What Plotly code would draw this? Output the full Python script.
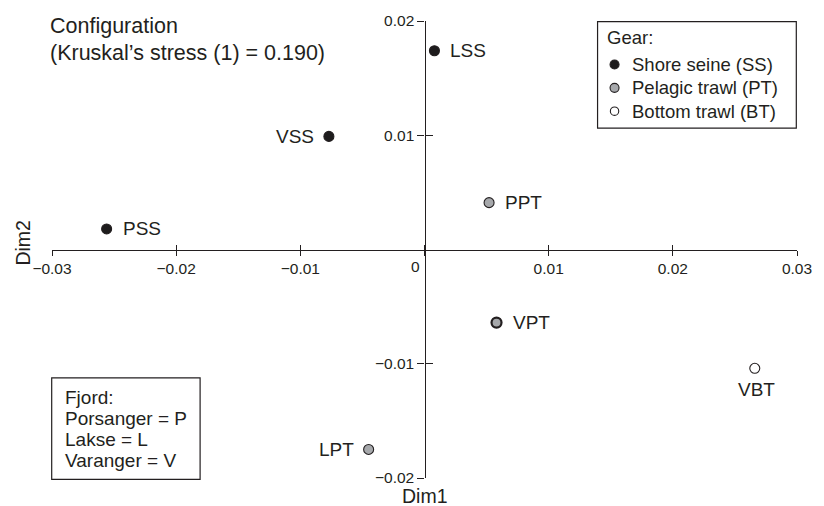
import plotly.graph_objects as go

# ---- data ----
labels = ["LSS", "VSS", "PSS", "PPT", "VPT", "LPT", "VBT"]
dim1 = [0.0008, -0.0077, -0.0256, 0.0052, 0.0058, -0.0045, 0.0266]
dim2 = [0.0174, 0.0099, 0.0018, 0.0041, -0.0064, -0.0175, -0.0104]
gear = ["SS", "SS", "SS", "PT", "PT", "PT", "BT"]
gear_order = ["SS", "PT", "BT"]
gear_names = ["Shore seine (SS)", "Pelagic trawl (PT)", "Bottom trawl (BT)"]
label_side = ["right", "left", "right", "right", "right", "left", "below"]
x_ticks = [-0.03, -0.02, -0.01, 0, 0.01, 0.02, 0.03]
y_ticks = [-0.02, -0.01, 0.01, 0.02]
fjord_lines = ["Fjord:", "Porsanger = P", "Lakse = L", "Varanger = V"]
title_lines = ["Configuration", "(Kruskal\u2019s stress (1) = 0.190)"]
legend_title = "Gear:"

# ---- styles ----
INK = "#231f20"
FONT = "Liberation Sans, Arial, sans-serif"
gear_fill = {"SS": "#1e1c1d", "PT": "#a6a8ab", "BT": "#ffffff"}
W, H = 824, 506
ML, MR, MT, MB = 52, 26, 16, 28
PW, PH = W - ML - MR, H - MT - MB


def pxx(p):
    return (p - ML) / PW


def pxy(p):
    return (H - MB - p) / PH


def fmt(v):
    if v == 0:
        return ""
    return ("\u2212" if v < 0 else "") + f"{abs(v):g}"


fig = go.Figure()

for g, name in zip(gear_order, gear_names):
    idx = [i for i, gg in enumerate(gear) if gg == g]
    lw = [2.2 if labels[i] == "VPT" else 1.1 for i in idx]
    fig.add_trace(go.Scatter(
        x=[dim1[i] for i in idx], y=[dim2[i] for i in idx],
        mode="markers", name=name, showlegend=False,
        marker=dict(size=10, color=gear_fill[g],
                    line=dict(color=INK, width=lw)),
        hoverinfo="text", text=[labels[i] for i in idx],
    ))

# overlay axes to draw the inner half of the crossing ticks
fig.add_trace(go.Scatter(x=[0], y=[0], xaxis="x2", yaxis="y2", mode="markers",
                         marker=dict(opacity=0), showlegend=False,
                         hoverinfo="skip"))

annotations = []
for lab, xv, yv, side in zip(labels, dim1, dim2, label_side):
    a = dict(x=xv, y=yv, xref="x", yref="y", text=lab, showarrow=False,
             font=dict(size=19, color=INK, family=FONT))
    if side == "right":
        a.update(xanchor="left", yanchor="middle", xshift=14)
    elif side == "left":
        a.update(xanchor="right", yanchor="middle", xshift=-13)
    else:
        a.update(xanchor="center", yanchor="middle", yshift=-21, xshift=2)
    annotations.append(a)

# x tick label "0" sits left of the vertical axis
annotations.append(dict(x=0, y=0.5, xref="x", yref="paper", text="0",
                        showarrow=False, xanchor="right", yanchor="top",
                        xshift=-3, yshift=-6,
                        font=dict(size=15.5, color=INK, family=FONT)))

# title
for i, t in enumerate(title_lines):
    annotations.append(dict(x=pxx(48), y=pxy(20.7 + i * 27.5), xref="paper",
                            yref="paper", text=t, showarrow=False,
                            xanchor="left", yanchor="middle",
                            font=dict(size=21.5, color=INK, family=FONT)))

# axis titles
annotations.append(dict(x=0.5, y=pxy(496.5), xref="paper", yref="paper",
                        text="Dim1", showarrow=False, xanchor="center",
                        yanchor="middle",
                        font=dict(size=19.5, color=INK, family=FONT)))
annotations.append(dict(x=pxx(23), y=pxy(240), xref="paper", yref="paper",
                        text="Dim2", showarrow=False, textangle=-90,
                        xanchor="center", yanchor="middle",
                        font=dict(size=19.5, color=INK, family=FONT)))

# fjord key
for i, t in enumerate(fjord_lines):
    annotations.append(dict(x=pxx(63), y=pxy(396.7 + i * 21.1), xref="paper",
                            yref="paper", text=t, showarrow=False,
                            xanchor="left", yanchor="middle",
                            font=dict(size=19, color=INK, family=FONT)))

shapes = [dict(type="rect", xref="paper", yref="paper",
               x0=pxx(51.7), x1=pxx(200.3), y0=pxy(479.3), y1=pxy(376.7),
               line=dict(color=INK, width=1.2), fillcolor="rgba(0,0,0,0)")]

# gear key (boxed legend)
shapes.append(dict(type="rect", xref="paper", yref="paper",
                   x0=pxx(598.3), x1=pxx(797.3), y0=pxy(124.3), y1=pxy(16.7),
                   line=dict(color=INK, width=1.2), fillcolor="white",
                   layer="above"))
annotations.append(dict(x=pxx(606), y=pxy(33), xref="paper", yref="paper",
                        text=legend_title, showarrow=False, xanchor="left",
                        yanchor="middle",
                        font=dict(size=18.5, color=INK, family=FONT)))
for i, (g, name) in enumerate(zip(gear_order, gear_names)):
    yc = pxy(60 + i * 23.6)
    r = 4.5 if g != "BT" else 4.2
    shapes.append(dict(type="circle", xref="paper", yref="paper",
                       xsizemode="pixel", ysizemode="pixel",
                       xanchor=pxx(615.3), yanchor=yc,
                       x0=-r, x1=r, y0=-r, y1=r,
                       fillcolor=gear_fill[g], layer="above",
                       line=dict(color=INK, width=1.1)))
    annotations.append(dict(x=pxx(631), y=yc, xref="paper", yref="paper",
                            text=name, showarrow=False, xanchor="left",
                            yanchor="middle",
                            font=dict(size=18.5, color=INK, family=FONT)))

axis_common = dict(showgrid=False, zeroline=False, showline=True,
                   linecolor=INK, linewidth=1.3, tickcolor=INK, tickwidth=1.3,
                   tickfont=dict(size=15.5, color=INK, family=FONT),
                   anchor="free", position=0.5, fixedrange=True)

fig.update_layout(
    width=W, height=H,
    margin=dict(l=ML, r=MR, t=MT, b=MB),
    paper_bgcolor="white", plot_bgcolor="white",
    font=dict(family=FONT, color=INK),
    xaxis=dict(range=[-0.03, 0.03], tickvals=x_ticks,
               ticktext=[fmt(v) for v in x_ticks], ticks="outside",
               ticklen=5, **axis_common),
    yaxis=dict(range=[-0.02, 0.02], tickvals=y_ticks,
               ticktext=[fmt(v) for v in y_ticks], ticks="outside",
               ticklen=7, **axis_common),
    xaxis2=dict(range=[-0.03, 0.03], overlaying="x", anchor="free",
                position=0.5, tickvals=x_ticks, ticks="inside", ticklen=5,
                tickwidth=1.3, tickcolor=INK, showticklabels=False,
                showline=False, showgrid=False, zeroline=False,
                fixedrange=True),
    yaxis2=dict(range=[-0.02, 0.02], overlaying="y", anchor="free",
                position=0.5, tickvals=y_ticks, ticks="inside", ticklen=7,
                tickwidth=1.3, tickcolor=INK, showticklabels=False,
                showline=False, showgrid=False, zeroline=False,
                fixedrange=True),
    annotations=annotations,
    shapes=shapes,
    showlegend=False,
)

fig.write_html("out.html", config={"displayModeBar": False},
               post_script="document.body.style.margin='0';"
                           "document.body.style.overflow='hidden';")
